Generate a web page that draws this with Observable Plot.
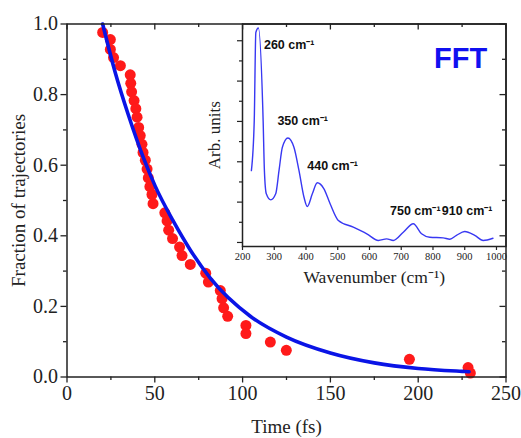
<!DOCTYPE html>
<html>
<head>
<meta charset="utf-8">
<script src="https://cdn.jsdelivr.net/npm/d3@7"></script>
<script src="https://cdn.jsdelivr.net/npm/@observablehq/plot@0.6"></script>
<style>
  html, body { margin: 0; padding: 0; background: #fff; }
  #wrap { position: relative; width: 521px; height: 438px; }
  #wrap svg { position: absolute; left: 0; top: 0; }
  #wrap svg text.serif { font-family: "Liberation Serif", "Times New Roman", serif !important; font-variant-numeric: normal !important; font-variant: normal !important; }
</style>
</head>
<body>
<div id="wrap"></div>
<script>
// ---- Main panel: fraction of trajectories vs time ----
const time = [20.3, 24.7, 24.7, 26.5, 30.4, 36, 36.3, 36.8, 38.2, 39.2, 39.9, 40.8, 41.7, 42.7, 43.3, 44.6, 45.6, 46.3, 47.2, 48.4, 49, 55.7, 57, 57.9, 60.1, 64.1, 65.5, 70.2, 79, 80.5, 87.3, 88.3, 89.2, 91.5, 101.9, 101.9, 115.8, 124.9, 195, 228.4, 229.7];
const fraction = [0.976, 0.956, 0.928, 0.905, 0.882, 0.856, 0.832, 0.808, 0.783, 0.76, 0.736, 0.707, 0.684, 0.659, 0.636, 0.614, 0.589, 0.564, 0.539, 0.517, 0.491, 0.465, 0.442, 0.416, 0.392, 0.368, 0.344, 0.319, 0.294, 0.269, 0.245, 0.222, 0.196, 0.172, 0.146, 0.123, 0.099, 0.0755, 0.05, 0.0266, 0.011];
const fitTime = [20.3, 27.5, 35.1, 43.6, 50.3, 60.7, 70.2, 81.6, 104.4, 125, 150, 175, 200, 225, 229];
const fitFraction = [1.0, 0.862, 0.74, 0.62, 0.54, 0.44, 0.36, 0.28, 0.172, 0.113, 0.068, 0.04, 0.024, 0.016, 0.015];
const xMajor = [0, 50, 100, 150, 200, 250];
const xMinor = [25, 75, 125, 175, 225];
const yMajor = [0, 0.2, 0.4, 0.6, 0.8, 1.0];
const yMinor = [0.1, 0.3, 0.5, 0.7, 0.9];

// ---- Inset: FFT spectrum ----
const wavenumber = [228, 237, 242, 250, 265, 269, 275, 289, 304.6, 315, 325.6, 343, 362, 378, 393.7, 404, 420, 435.5, 456.5, 476, 502, 549, 591.5, 628, 654, 675, 706.5, 738, 764, 790, 832, 853, 874, 900, 931.5, 958, 989];
const amplitude = [3.56, 6.04, 10.41, 10.63, 6.04, 3.56, 2.41, 2.11, 2.41, 3.56, 4.72, 5.18, 4.72, 3.56, 2.24, 1.78, 2.41, 2.96, 2.66, 1.92, 1.09, 0.76, 0.43, 0.10, 0.18, 0.10, 0.51, 0.93, 0.43, 0.26, 0.23, 0.16, 0.35, 0.54, 0.35, 0.10, 0.21];
const insetXTicks = [200, 300, 400, 500, 600, 700, 800, 900, 1000];
const insetYMajor = [0, 2, 4, 6, 8, 10];
const insetYMinor = [1, 3, 5, 7, 9];
const peakLabels = ["260 cm⁻¹", "350 cm⁻¹", "440 cm⁻¹", "750 cm⁻¹", "910 cm⁻¹"];
const peakLabelW = [267.5, 310, 404, 664.7, 828];
const peakLabelA = [9.8, 6.04, 3.81, 1.58, 1.58];

const W = 521, H = 438;
const mL = 66.5, mR = 15.5, mT = 23.5, mB = 61.5;
const pw = W - mL - mR, ph = H - mT - mB;
const serif = "Liberation Serif";
const sans = "Liberation Sans";
const frameColor = "#222";

const pts = time.map((t, i) => ({t, f: fraction[i]}));
const fit = fitTime.map((t, i) => ({t, f: fitFraction[i]}));

const main = Plot.plot({
  width: W, height: H,
  marginLeft: mL, marginRight: mR, marginTop: mT, marginBottom: mB,
  x: {domain: [0, 250]},
  y: {domain: [0, 1]},
  style: {fontFamily: serif, background: "transparent", color: "#222"},
  marks: [
    Plot.dot(pts, {x: "t", y: "f", r: 5.5, fill: "#ff1a1a", stroke: "none"}),
    Plot.line(fit, {x: "t", y: "f", stroke: "#0a14e6", strokeWidth: 3.6, curve: "monotone-x"}),
    Plot.frame({stroke: frameColor, strokeWidth: 1.5}),
    Plot.axisX({ticks: xMajor, tickSize: 6, tickPadding: 3, fontFamily: serif, fontVariant: "normal", fontSize: 20, tickFormat: d => String(d),
      label: "Time (fs)", labelAnchor: "center", labelArrow: "none", labelOffset: 56, strokeWidth: 1.3}),
    Plot.axisX({ticks: xMinor, tickSize: 3.5, text: null, label: null, strokeWidth: 1.3}),
    Plot.axisY({ticks: yMajor, tickSize: 6, tickPadding: 3, fontFamily: serif, fontVariant: "normal", fontSize: 20, tickFormat: d3.format(".1f"),
      label: "Fraction of trajectories", labelAnchor: "center", labelArrow: "none", labelOffset: 56, strokeWidth: 1.3}),
    Plot.axisY({ticks: yMinor, tickSize: 3.5, text: null, label: null, strokeWidth: 1.3}),
    // mirrored inward ticks on top and right
    Plot.tickX(xMajor, {x: d => d, insetBottom: ph - 6, stroke: frameColor, strokeWidth: 1.3}),
    Plot.tickX(xMinor, {x: d => d, insetBottom: ph - 3.5, stroke: frameColor, strokeWidth: 1.3}),
    Plot.tickY(yMajor, {y: d => d, insetLeft: pw - 6, stroke: frameColor, strokeWidth: 1.3}),
    Plot.tickY(yMinor, {y: d => d, insetLeft: pw - 3.5, stroke: frameColor, strokeWidth: 1.3})
  ]
});

const iL = 242, iR = 15.5, iT = 23.5, iB = 192;
const spec = wavenumber.map((w, i) => ({w, a: amplitude[i]}));
const labs = peakLabels.map((s, i) => ({s, w: peakLabelW[i], a: peakLabelA[i]}));

const inset = Plot.plot({
  width: W, height: H,
  marginLeft: iL, marginRight: iR, marginTop: iT, marginBottom: iB,
  x: {domain: [200, 1030]},
  y: {domain: [-0.2, 10.83]},
  style: {fontFamily: serif, background: "transparent", color: "#222"},
  marks: [
    Plot.line(spec, {x: "w", y: "a", stroke: "#3838f2", strokeWidth: 1.4, curve: "monotone-x"}),
    Plot.frame({stroke: frameColor, strokeWidth: 1.5}),
    Plot.axisX({ticks: insetXTicks, tickSize: 4, tickPadding: 2, fontFamily: serif, fontVariant: "normal", fontSize: 10.5, tickFormat: d => String(d),
      label: "Wavenumber (cm⁻¹)", labelAnchor: "center", labelArrow: "none", labelOffset: 36, strokeWidth: 1.2}),
    Plot.axisY({ticks: insetYMajor, tickSize: 5, text: null, label: "Arb. units", labelAnchor: "center",
      labelArrow: "none", labelOffset: 35, strokeWidth: 1.2}),
    Plot.axisY({ticks: insetYMinor, tickSize: 3, text: null, label: null, strokeWidth: 1.2}),
    Plot.text(labs, {x: "w", y: "a", text: "s", textAnchor: "start", fontFamily: sans, fontWeight: "bold", fontSize: 12.5, fill: "#111"}),
    Plot.text(["FFT"], {x: [887], y: [9.1], text: d => d, fontFamily: sans, fontWeight: "bold", fontSize: 29, fill: "#1010f0"})
  ]
});

// axis text styling
const m = d3.select(main), ins = d3.select(inset);
m.selectAll("g[aria-label$='tick label'] text").classed("serif", true).style("font-size", "20px");
m.selectAll("g[aria-label$='axis label'] text").classed("serif", true).style("font-size", "19px");
ins.selectAll("g[aria-label='x-axis tick label'] text").classed("serif", true).style("font-size", "10.5px");
ins.selectAll("g[aria-label='x-axis label'] text").classed("serif", true).style("font-size", "17.5px");
ins.selectAll("g[aria-label='y-axis label'] text").classed("serif", true).style("font-size", "17px");

const wrap = document.getElementById("wrap");
wrap.appendChild(main);
wrap.appendChild(inset);
</script>
</body>
</html>
